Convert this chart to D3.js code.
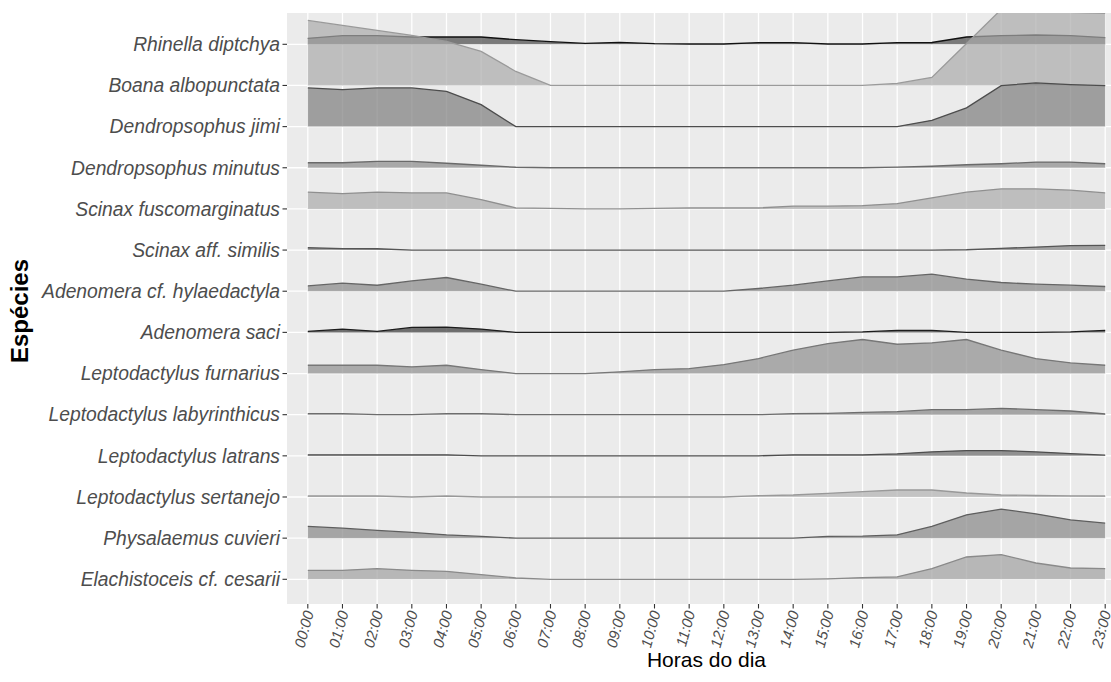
<!DOCTYPE html>
<html>
<head>
<meta charset="utf-8">
<script src="https://cdn.jsdelivr.net/npm/d3@7"></script>
<style>
body { margin: 0; background: #fff; }
text { font-family: "Liberation Sans", Arial, sans-serif; }
</style>
</head>
<body>
<div id="chart"></div>
<script>
let width = 1111, height = 682;

// species from top to bottom
let species = [
  "Rhinella diptchya", "Boana albopunctata", "Dendropsophus jimi", "Dendropsophus minutus",
  "Scinax fuscomarginatus", "Scinax aff. similis", "Adenomera cf. hylaedactyla", "Adenomera saci",
  "Leptodactylus furnarius", "Leptodactylus labyrinthicus", "Leptodactylus latrans",
  "Leptodactylus sertanejo", "Physalaemus cuvieri", "Elachistoceis cf. cesarii"
];

let hours = ["00:00","01:00","02:00","03:00","04:00","05:00","06:00","07:00","08:00","09:00","10:00","11:00",
  "12:00","13:00","14:00","15:00","16:00","17:00","18:00","19:00","20:00","21:00","22:00","23:00"];

// ridge heights per hour
let rhinella      = [6, 8.6, 8.6, 7.3, 7.3, 7.3, 4.6, 2.6, 0.9, 2, 0.6, 0.3, 0.3, 1.6, 1.6, 0.3, 0.3, 1.6, 1.8, 7.3, 8.7, 9.3, 8.7, 6.6];
let boana         = [65, 60, 55, 50, 44, 34, 14, 0, 0, 0, 0, 0, 0, 0, 0, 0, 0, 2, 8, 42, 76, 76, 73, 72];
let dJimi         = [38.7, 37, 38.7, 38.7, 35.3, 22, 0, 0, 0, 0, 0, 0, 0, 0, 0, 0, 0, 0, 6.3, 18.7, 41, 43.7, 42, 41];
let dMinutus      = [5, 5, 6.3, 6.3, 4.5, 2.5, 0.5, 0, 0, 0, 0, 0, 0, 0, 0, 0, 0, 0.7, 1.5, 3, 4, 5.7, 5.7, 4];
let sFusco        = [16.7, 15.3, 16.7, 16, 16, 9.3, 1, 0.5, 0, 0, 0.5, 1, 1, 1, 2.7, 2.7, 3.3, 5.3, 11, 16.7, 20, 20, 18.7, 16];
let sSimilis      = [2.3, 1.5, 1.3, 0, 0, 0, 0, 0, 0, 0, 0, 0, 0, 0, 0, 0, 0, 0, 0, 0.3, 1.7, 3, 4.5, 4.7];
let aHylaedactyla = [5.3, 8, 6, 10.3, 13.7, 7, 0, 0, 0, 0, 0, 0, 0, 2.7, 6, 10.3, 14.3, 14.3, 17, 12, 8.7, 7, 6, 4.7];
let aSaci         = [1, 3.3, 1, 5, 5.3, 3.3, 0, 0, 0, 0, 0, 0, 0, 0, 0, 0, 0.5, 2, 2, 0, 0, 0, 0.5, 2];
let lFurnarius    = [8.3, 8.3, 8.3, 6.7, 8.3, 4, 0, 0, 0, 1.7, 4, 5, 9, 15, 23.3, 30, 34, 29.3, 30.7, 34, 23.3, 15, 10.7, 8.3];
let lLabyrinthicus = [1, 1, 0, 0, 1, 1, 0, 0, 0, 0, 0, 0, 0, 0, 1, 1.3, 2.3, 3, 5, 5, 6.3, 5, 3.7, 0.7];
let lLatrans      = [1, 1, 1, 1, 1, 0, 0, 0, 0, 0, 0, 0, 0, 0, 1, 1, 1, 2, 4, 5.3, 5.3, 4, 2.3, 0.7];
let lSertanejo    = [1, 1, 1, 0, 1, 0, 0, 0, 0, 0, 0, 0, 0, 1.3, 2, 3.7, 5.3, 7, 7, 4, 2, 1.5, 1.2, 1];
let pCuvieri      = [11.7, 10, 7.7, 5.7, 3.3, 1.7, 0, 0, 0, 0, 0, 0, 0, 0, 0, 1.7, 2, 3.3, 11.7, 23.3, 29, 24.3, 18.3, 15];
let eCesarii      = [9, 9, 10.7, 9, 8, 4.7, 1.3, 0, 0, 0, 0, 0, 0, 0, 0, 0.5, 1.7, 2.5, 10.7, 22.3, 24.7, 16.3, 11.3, 10.7];

let seriesValues = [rhinella, boana, dJimi, dMinutus, sFusco, sSimilis, aHylaedactyla, aSaci,
  lFurnarius, lLabyrinthicus, lLatrans, lSertanejo, pCuvieri, eCesarii];

let fills = ["#4a4a4a", "#ababab", "#7d7d7d", "#8b8b8b", "#ababab", "#808080", "#878787",
  "#383838", "#8e8e8e", "#878787", "#6a6a6a", "#b2b2b2", "#878787", "#a1a1a1"];
let strokes = ["#111111", "#9a9a9a", "#4d4d4d", "#6a6a6a", "#8f8f8f", "#555555", "#666666",
  "#1c1c1c", "#777777", "#6d6d6d", "#4d4d4d", "#999999", "#5e5e5e", "#8a8a8a"];

let panel = {left: 287, top: 13, right: 1126, bottom: 604};

let svg = d3.select("#chart").append("svg")
  .attr("width", width)
  .attr("height", height)
  .style("background", "#fff");

let x = d3.scalePoint()
  .domain(hours)
  .range([panel.left, panel.right])
  .padding(0.6);

let y = d3.scalePoint()
  .domain(species)
  .range([44.3, 579.3]);

let h = d3.scaleLinear()
  .domain([0, 41.15])
  .range([0, y.step()]);

svg.append("defs").append("clipPath")
  .attr("id", "clip")
  .append("rect")
  .attr("x", panel.left).attr("y", panel.top)
  .attr("width", panel.right - panel.left)
  .attr("height", panel.bottom - panel.top);

svg.append("rect")
  .attr("x", panel.left).attr("y", panel.top)
  .attr("width", panel.right - panel.left)
  .attr("height", panel.bottom - panel.top)
  .attr("fill", "#ebebeb");

let grid = svg.append("g");
grid.selectAll(".vgrid")
  .data(hours)
  .enter().append("line")
  .attr("x1", d => x(d)).attr("x2", d => x(d))
  .attr("y1", panel.top).attr("y2", panel.bottom)
  .attr("stroke", "#fff").attr("stroke-width", 1.3);
grid.selectAll(".hgrid")
  .data(species)
  .enter().append("line")
  .attr("x1", panel.left).attr("x2", panel.right)
  .attr("y1", d => y(d)).attr("y2", d => y(d))
  .attr("stroke", "#fff").attr("stroke-width", 1.3);

let ridges = svg.append("g").attr("clip-path", "url(#clip)");

species.forEach((sp, i) => {
  let base = y(sp);
  let vals = seriesValues[i];
  let area = d3.area()
    .x((d, j) => x(hours[j]))
    .y0(base)
    .y1(d => base - h(d));
  let line = d3.line()
    .x((d, j) => x(hours[j]))
    .y(d => base - h(d));
  ridges.append("path")
    .datum(vals)
    .attr("d", area)
    .attr("fill", fills[i])
    .attr("fill-opacity", 0.7);
  ridges.append("path")
    .datum(vals)
    .attr("d", line)
    .attr("fill", "none")
    .attr("stroke", strokes[i])
    .attr("stroke-width", 1.3);
});

// y axis
let yAxis = svg.append("g");
yAxis.selectAll("line")
  .data(species)
  .enter().append("line")
  .attr("x1", panel.left - 4.5).attr("x2", panel.left)
  .attr("y1", d => y(d)).attr("y2", d => y(d))
  .attr("stroke", "#333").attr("stroke-width", 1.1);
yAxis.selectAll("text")
  .data(species)
  .enter().append("text")
  .attr("x", panel.left - 7)
  .attr("y", d => y(d))
  .attr("dy", "0.35em")
  .attr("text-anchor", "end")
  .attr("font-style", "italic")
  .attr("font-size", "19.3px")
  .attr("fill", "#4d4d4d")
  .text(d => d);

// x axis
let xAxis = svg.append("g");
xAxis.selectAll("line")
  .data(hours)
  .enter().append("line")
  .attr("x1", d => x(d)).attr("x2", d => x(d))
  .attr("y1", panel.bottom).attr("y2", panel.bottom + 4.5)
  .attr("stroke", "#333").attr("stroke-width", 1.1);
xAxis.selectAll("text")
  .data(hours)
  .enter().append("text")
  .attr("transform", d => "translate(" + (x(d) + 1) + "," + (panel.bottom + 7) + ") rotate(-75)")
  .attr("dy", "0.35em")
  .attr("text-anchor", "end")
  .attr("font-style", "italic")
  .attr("font-size", "15px")
  .attr("fill", "#4d4d4d")
  .text(d => d);

svg.append("text")
  .attr("x", (panel.left + panel.right) / 2)
  .attr("y", 667)
  .attr("text-anchor", "middle")
  .attr("font-size", "21px")
  .attr("fill", "#000")
  .text("Horas do dia");

svg.append("text")
  .attr("transform", "translate(28,311) rotate(-90)")
  .attr("text-anchor", "middle")
  .attr("font-size", "24px")
  .attr("font-weight", "bold")
  .attr("fill", "#000")
  .text("Espécies");
</script>
</body>
</html>
